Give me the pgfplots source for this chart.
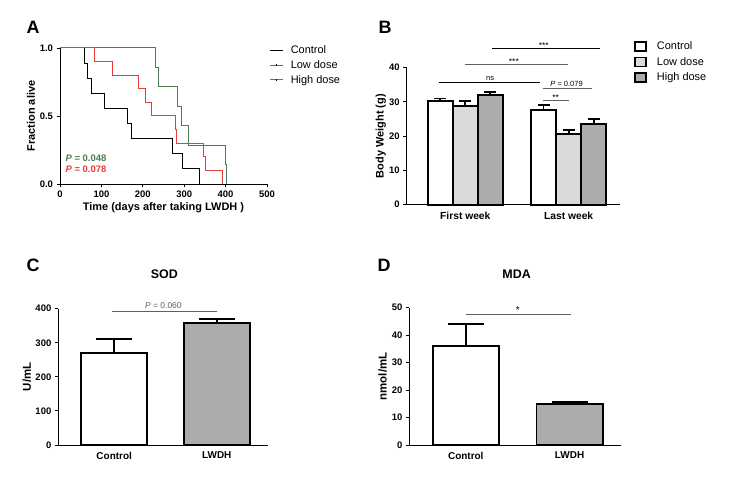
\documentclass[border=0pt]{standalone}
\usepackage{pgfplots}
\pgfplotsset{compat=1.18}
\usepackage{fontspec}
\setmainfont{Liberation Sans}
\definecolor{lowgreen}{RGB}{72,125,85}
\definecolor{highred}{RGB}{232,62,55}
\definecolor{lightbar}{RGB}{218,218,218}
\definecolor{darkbar}{RGB}{172,172,172}
\definecolor{siggray}{RGB}{95,95,95}
\newcommand{\fs}[1]{\fontsize{#1}{#1}\selectfont}
\begin{document}
\begin{tikzpicture}[x=1bp,y=1bp]
\useasboundingbox (0,0) rectangle (732,482);
\pgfplotsset{
  common/.style={
    scale only axis,
    axis lines=left,
    axis line style={line width=0.9bp,-},
    every tick/.style={line width=0.9bp,black},
    tick align=outside,
    major tick length=3.5bp,
    ticklabel style={font=\bfseries\fs{9.5}},
    /pgf/number format/assume math mode=true,
    label style={font=\bfseries\fs{11}},
    clip=false,
  },
  barerr/.style={error bars/.cd, y dir=plus, y explicit,
    error bar style={line width=1.9bp,black},
    error mark options={rotate=90,mark size=#1,line width=1.9bp,black}},
}
% ---------------- Panel A ----------------
\node[font=\bfseries\fs{18}] at (33,455) {A};
\begin{axis}[common,
  at={(60bp,298bp)}, anchor=south west,
  width=207bp, height=136bp,
  xmin=0, xmax=500, ymin=0, ymax=1,
  xtick={0,100,200,300,400,500},
  ytick={0,0.5,1},
  yticklabel style={/pgf/number format/.cd,fixed,fixed zerofill,precision=1},
  xlabel={Time (days after taking LWDH )},
  ylabel={Fraction alive},
  xlabel style={yshift=2bp},
  ylabel style={yshift=-2bp},
  legend style={at={(rel axis cs:1.01,1.035)}, anchor=north west, draw=none,
    fill=none, font=\fs{11}, row sep=1.5bp, inner sep=0pt},
  legend cell align=left,
]
\addplot[const plot, black, line width=1bp,
  legend image code/.code={\draw[black,line width=1bp] (0bp,0bp) -- (13bp,0bp); \path[draw=none,fill=none] (0bp,0bp) -- (19bp,0bp);}] coordinates {
 (0,1) (60,0.889) (67,0.778) (77,0.667) (108,0.556) (163,0.444)
 (172,0.333) (272,0.222) (295,0.111) (338,0)};
\addlegendentry{Control}
\addplot[const plot, lowgreen, line width=1bp,
  legend image code/.code={\draw[lowgreen,line width=1bp] (0bp,0bp) -- (13bp,0bp);
     \draw[black,line width=0.5bp] (6.5bp,-1bp) -- (6.5bp,1bp); \path[draw=none,fill=none] (0bp,0bp) -- (19bp,0bp);}] coordinates {
 (0,1) (230,0.857) (238,0.714) (283,0.571) (294,0.429) (311,0.286)
 (399,0.143) (402,0)};
\addlegendentry{Low dose}
\addplot[const plot, highred, line width=1bp,
  legend image code/.code={\draw[highred,line width=1bp] (0bp,0bp) -- (13bp,0bp);
     \draw[black,line width=0.5bp] (6.5bp,-1bp) -- (6.5bp,1bp); \path[draw=none,fill=none] (0bp,0bp) -- (19bp,0bp);}] coordinates {
 (0,1) (84,0.9) (126,0.8) (190,0.7) (206,0.6) (221,0.5) (279,0.4)
 (281,0.3) (347,0.2) (352,0.1) (392,0)};
\addlegendentry{High dose}
\node[anchor=west, text=lowgreen, font=\bfseries\fs{9.5}, inner sep=0pt] at (axis cs:13,0.19) {\textit{P} = 0.048};
\node[anchor=west, text=highred, font=\bfseries\fs{9.5}, inner sep=0pt] at (axis cs:13,0.11) {\textit{P} = 0.078};
\end{axis}
% ---------------- Panel B ----------------
\node[font=\bfseries\fs{18}] at (385,455) {B};
\begin{axis}[common,
  at={(406.7bp,277.3bp)}, anchor=south west,
  width=213.3bp, height=137bp,
  xmin=-0.567, xmax=1.497, ymin=0, ymax=40,
  xtick={0,1}, xticklabels={First week, Last week},
  xticklabel style={font=\bfseries\fs{10.3}},
  x tick style={draw=none},
  ytick={0,10,20,30,40},
  ylabel={Body Weight (g)},
  ylabel style={yshift=-3.5bp},
  ybar, bar width=25.1bp, bar shift=0pt,
  legend style={at={(rel axis cs:1.065,1.205)}, anchor=north west, draw=none,
    fill=none, font=\fs{11}, row sep=2bp, inner sep=0pt},
  legend cell align=left,
]
\addplot[fill=white, draw=black, line width=1.9bp,
  legend image code/.code={\draw[fill=white,draw=black,line width=1.8bp] (0bp,-4.5bp) rectangle (11bp,4.5bp); \path[draw=none,fill=none] (0bp,0bp) -- (20bp,0bp);}, barerr=6bp] coordinates {
 (-0.243,30.3) +- (0,0.7) (0.757,27.6) +- (0,1.4)};
\addlegendentry{Control}
\addplot[fill=lightbar, draw=black, line width=1.9bp,
  legend image code/.code={\draw[fill=lightbar,draw=black,line width=1.8bp] (0bp,-4.5bp) rectangle (11bp,4.5bp); \path[draw=none,fill=none] (0bp,0bp) -- (20bp,0bp);}, barerr=6bp] coordinates {
 (0,28.9) +- (0,1.5) (1,20.6) +- (0,1.1)};
\addlegendentry{Low dose}
\addplot[fill=darkbar, draw=black, line width=1.9bp,
  legend image code/.code={\draw[fill=darkbar,draw=black,line width=1.8bp] (0bp,-4.5bp) rectangle (11bp,4.5bp); \path[draw=none,fill=none] (0bp,0bp) -- (20bp,0bp);}, barerr=6bp] coordinates {
 (0.243,32.0) +- (0,1.0) (1.243,23.5) +- (0,1.4)};
\addlegendentry{High dose}
\draw[black, line width=0.8bp] (axis cs:-0.25,35.8) -- (axis cs:0.72,35.8);
\node[font=\fs{7.5}, anchor=south, inner sep=1.2bp] at (axis cs:0.24,35.8) {ns};
\draw[siggray, line width=1bp] (axis cs:0.0,40.9) -- (axis cs:0.99,40.9);
\node[font=\fs{8.5}, anchor=south, inner sep=0.3bp] at (axis cs:0.47,40.9) {***};
\draw[black, line width=1bp] (axis cs:0.26,45.5) -- (axis cs:1.3,45.5);
\node[font=\fs{8.5}, anchor=south, inner sep=0.3bp] at (axis cs:0.76,45.5) {***};
\draw[siggray, line width=1bp] (axis cs:0.75,34.0) -- (axis cs:1.23,34.0);
\node[font=\fs{7.5}, anchor=south, inner sep=1.2bp] at (axis cs:0.98,34.0) {\textit{P} = 0.079};
\draw[siggray, line width=1bp] (axis cs:0.75,30.4) -- (axis cs:1.0,30.4);
\node[font=\fs{8.5}, anchor=south, inner sep=0.3bp] at (axis cs:0.875,30.4) {**};
\end{axis}
% ---------------- Panel C ----------------
\node[font=\bfseries\fs{18}] at (33,217) {C};
\begin{axis}[common,
  at={(58.3bp,37bp)}, anchor=south west,
  width=210bp, height=136.3bp,
  xmin=-0.545, xmax=1.503, ymin=0, ymax=400,
  xtick={0,1}, xticklabels={Control, LWDH},
  xticklabel style={font=\bfseries\fs{10}},
  x tick style={draw=none},
  ytick={0,100,200,300,400},
  ylabel={U/mL},
  ylabel style={font=\bfseries\fs{11.5}, yshift=-2.5bp},
  ybar, bar width=66.3bp, bar shift=0pt,
]
\addplot[fill=white, draw=black, line width=1.9bp, barerr=18bp] coordinates {
 (0,271) +- (0,41)};
\addplot[fill=darkbar, draw=black, line width=1.9bp, barerr=18bp] coordinates {
 (1,357) +- (0,13)};
\draw[siggray, line width=1bp] (axis cs:-0.02,393) -- (axis cs:1.0,393);
\node[font=\fs{8.5}, text=siggray, anchor=south, inner sep=2bp] at (axis cs:0.48,393) {\textit{P} = 0.060};
\node[font=\bfseries\fs{12.5}] at (axis cs:0.49,500) {SOD};
\end{axis}
% ---------------- Panel D ----------------
\node[font=\bfseries\fs{18}] at (384,217) {D};
\begin{axis}[common,
  at={(409.3bp,37bp)}, anchor=south west,
  width=211.7bp, height=137.3bp,
  xmin=-0.544, xmax=1.495, ymin=0, ymax=50,
  xtick={0,1}, xticklabels={Control, LWDH},
  xticklabel style={font=\bfseries\fs{10}},
  x tick style={draw=none},
  ytick={0,10,20,30,40,50},
  ylabel={nmol/mL},
  ylabel style={font=\bfseries\fs{11.5}, yshift=-2bp},
  ybar, bar width=66.3bp, bar shift=0pt,
]
\addplot[fill=white, draw=black, line width=1.9bp, barerr=18bp] coordinates {
 (0,36.0) +- (0,8.1)};
\addplot[fill=darkbar, draw=black, line width=1.9bp, barerr=18bp] coordinates {
 (1,14.8) +- (0,0.7)};
\draw[siggray, line width=1.3bp] (axis cs:0.0,47.4) -- (axis cs:1.01,47.4);
\node[font=\fs{10}, anchor=south, inner sep=1bp] at (axis cs:0.5,47.4) {*};
\node[font=\bfseries\fs{12.5}] at (axis cs:0.49,62.3) {MDA};
\end{axis}
\end{tikzpicture}
\end{document}
